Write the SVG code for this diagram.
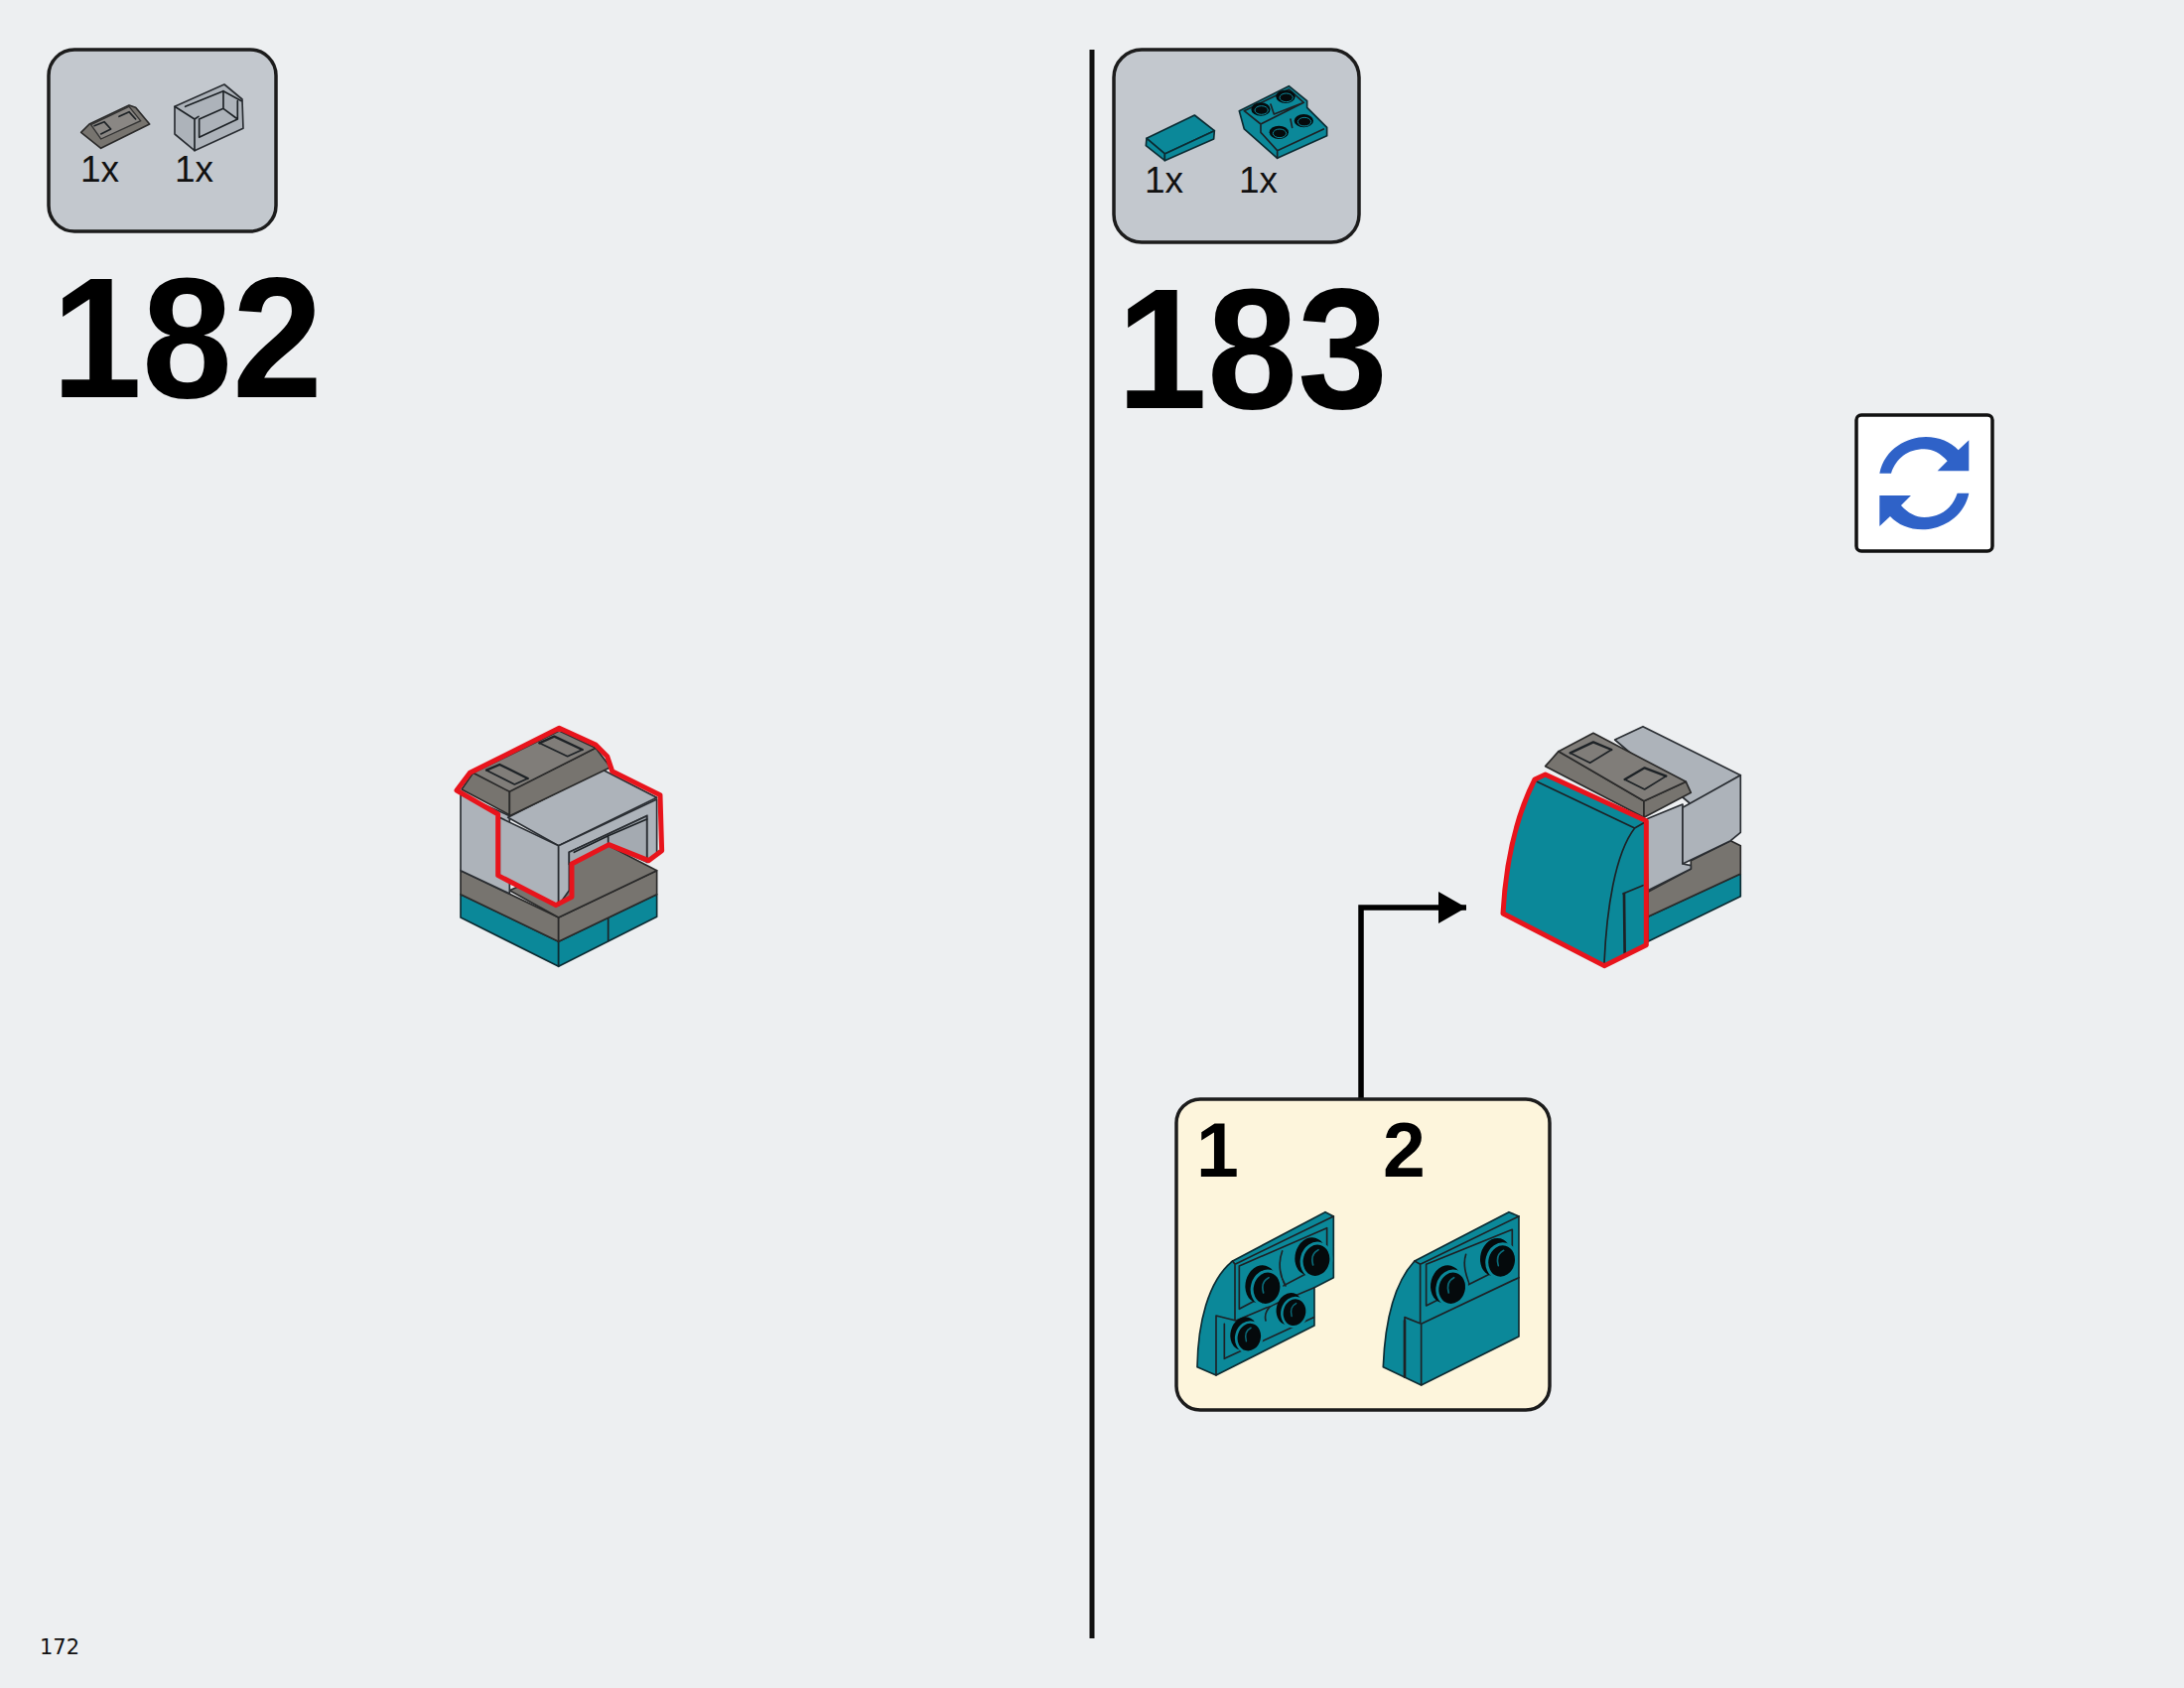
<svg xmlns="http://www.w3.org/2000/svg" width="2200" height="1700" viewBox="0 0 2200 1700">
<style>
.bg{fill:#edeff1}
.panel{fill:#c3c8ce;stroke:#1c1c1c;stroke-width:3.500}
.call{fill:#fdf5dc;stroke:#1c1c1c;stroke-width:3.500}
.num{font-family:"Liberation Sans",Arial,sans-serif;font-weight:700;fill:#000}
.qty{font-family:"Liberation Sans",Arial,sans-serif;font-size:37px;fill:#111}
.pg{font-family:"DejaVu Sans",sans-serif;font-size:21px;fill:#111}
.l{stroke:#1d2226;stroke-width:5;stroke-linejoin:round;stroke-linecap:round;fill:none}
.teal{fill:#0b8899;stroke:#0c2c33;stroke-width:5;stroke-linejoin:round}
.tealn{fill:#0b8899}
.dk{fill:#77746f;stroke:#2a2a2a;stroke-width:5;stroke-linejoin:round}
.dk2{fill:#807d79;stroke:#2a2a2a;stroke-width:5;stroke-linejoin:round}
.lt{fill:#adb3ba;stroke:#2a2e33;stroke-width:5;stroke-linejoin:round}
.red{fill:none;stroke:#e8141c;stroke-width:15;stroke-linejoin:round}
.sk{fill:#050a0c}
.ring{fill:#050a0c;stroke:#0b8899;stroke-width:9}
.hl{fill:none;stroke:#0a6a78;stroke-width:5;stroke-linecap:round}
.thin{fill:none;stroke:#0b8899;stroke-width:3}
.ico{fill:#2f62c8}
</style>
<defs>
<marker id="arr" markerUnits="userSpaceOnUse" markerWidth="30" markerHeight="34" refX="28" refY="16" orient="auto"><path d="M0 0L28 16L0 32Z" fill="#000"/></marker>
<g id="stud">
<ellipse class="sk" cx="-18" cy="-12" rx="46" ry="58" transform="rotate(15 -18 -12)"/>
<ellipse class="ring" rx="44" ry="52" transform="rotate(15)"/>
<path class="hl" d="M-10 14C-16 -8 -10 -24 6 -32"/>
</g>
<g id="stud-s">
<ellipse class="sk" rx="29" ry="20"/>
<ellipse class="thin" cx="2" cy="3" rx="20" ry="13"/>
</g>
<path id="turn" d="M130 215C145 140 215 105 270 105C310 105 345 120 368 145L400 115V208H305L335 178C315 155 290 142 265 142C215 142 180 170 165 215Z"/>
</defs>
<rect class="bg" width="2200" height="1700"/>
<g id="connectors">
<path d="M1100 50V1650" stroke="#111" stroke-width="5" fill="none"/>
<path d="M1371 1107V914H1477" stroke="#000" stroke-width="5.500" fill="none" marker-end="url(#arr)"/>
</g>
<g id="parts-182">
<rect class="panel" x="49" y="50" width="229" height="183" rx="26"/>
<g transform="translate(30 30) scale(.3333)">
<path class="dk" d="M155 310L180 285L300 228L320 235L362 285L215 358Z"/>
<path d="M185 287L300 232L335 275L215 330Z" fill="#8a8784" stroke="#333" stroke-width="4"/>
<path class="l" d="M195 290L225 278L245 300L215 315M270 262L300 248L320 270"/>
<path class="lt" d="M438 232L588 165L642 210L645 298L498 365L438 315Z"/>
<path class="l" d="M438 232L498 270V365M498 270L510 262M470 232L585 185L640 215M512 270L585 238V185M585 238L628 270M512 270V325L628 270V215"/>
</g>
<text class="qty" x="81" y="183">1x</text>
<text class="qty" x="176" y="183">1x</text>
</g>
<text id="step-182" class="num" x="52" y="400" font-size="172" textLength="273" lengthAdjust="spacingAndGlyphs">182</text>
<g id="model-182" transform="translate(440 710) scale(.3333)">
<path class="teal" d="M72 572L368 715V790L72 642Z"/>
<path class="teal" d="M368 715L665 572V640L368 790Z"/>
<path class="l" d="M518 640V712"/>
<path class="dk" d="M72 500L368 642V715L72 572Z"/>
<path class="dk" d="M368 642L665 500V572L368 715Z"/>
<path class="dk" d="M220 560L400 480L520 425L665 500L368 642Z"/>
<path class="lt" d="M72 270V500L220 570L220 335Z"/>
<path class="lt" d="M215 340L500 195L665 280L368 425Z"/>
<path class="lt" d="M190 340L368 425V605L190 520Z"/>
<path class="lt" d="M368 425L665 285V450L635 475V335L400 445V480V560L368 605Z"/>
<path d="M400 445L635 335V475L520 422L400 480Z" fill="#a4aab1" stroke="#2a2e33" stroke-width="5"/>
<path class="l" d="M415 445L518 395V422M518 395L635 345"/>
<path class="dk" d="M75 255L110 205L220 260L220 332Z"/>
<path class="dk" d="M220 260L480 130L525 188L220 335Z"/>
<path class="dk2" d="M110 205L370 78L480 130L220 262Z"/>
<path class="l" style="stroke-width:7" d="M150 197L190 180L275 222M310 115L355 95L440 135"/>
<path class="l" d="M150 197L235 240L275 222M310 115L395 155L440 135"/>
<path class="red" d="M60 258L100 205L370 70L480 120L515 155L530 200L675 272L680 440L640 470L520 422L408 480L408 580L360 605L185 515L185 330Z"/>
</g>
<g id="parts-183">
<rect class="panel" x="1122" y="50" width="247" height="194" rx="28"/>
<g transform="translate(1110 40) scale(.3333)">
<path class="teal" d="M135 298L280 228L340 275L190 345Z"/>
<path class="teal" d="M135 298L190 345V365L133 320Z"/>
<path class="teal" d="M190 345L340 275L338 300L190 365Z"/>
<path class="teal" d="M415 215L565 140L620 185V205L680 265V290L530 358L430 270Z"/>
<path class="l" d="M430 215L565 150L610 190L480 255L430 215M480 255V280L530 335L670 270M530 335V358M510 195L520 225L610 190M570 240L575 265"/>
<use href="#stud-s" x="480" y="210"/><use href="#stud-s" x="555" y="172"/><use href="#stud-s" x="535" y="280"/><use href="#stud-s" x="610" y="245"/>
</g>
<text class="qty" x="1153" y="194">1x</text>
<text class="qty" x="1248" y="194">1x</text>
</g>
<text id="step-183" class="num" x="1125" y="411" font-size="172" textLength="273" lengthAdjust="spacingAndGlyphs">183</text>
<g id="rotate-icon">
<rect x="1870" y="418" width="137" height="137" rx="5" fill="#fff" stroke="#111" stroke-width="3.500"/>
<g transform="translate(1850 405) scale(.3333)">
<use href="#turn" class="ico"/>
<use href="#turn" class="ico" transform="rotate(180 265 245)"/>
</g>
</g>
<g id="model-183" transform="translate(1490 710) scale(.3333)">
<path class="lt" d="M410 105L495 65L790 212L640 300Z"/>
<path class="teal" d="M510 640L790 510V578L510 715Z"/>
<path class="dk" d="M510 565L640 495V470L760 410L790 425V510L510 640Z"/>
<path class="lt" d="M505 345L615 300V480L640 485V495L510 560Z"/>
<path class="lt" d="M615 310L790 212V385L760 410L615 480Z"/>
<path class="dk" d="M200 185L240 140L498 290V340Z"/>
<path class="dk" d="M498 290L625 232L640 265L498 340Z"/>
<path class="dk2" d="M240 140L345 85L625 232L498 290Z"/>
<path class="l" style="stroke-width:7" d="M275 145L345 112L400 135M440 225L500 190L565 215"/>
<path class="l" d="M275 145L335 175L400 135M440 225L500 255L565 215"/>
<path class="tealn" d="M75 630C80 480 110 340 170 225L200 210L500 355V725L378 785Z"/>
<path class="l" d="M175 232L470 372C410 450 385 620 378 780M470 372L500 355M435 570L495 545"/>
<path class="l" style="stroke-width:8" d="M438 570L440 750"/>
<path class="red" d="M72 630C80 480 110 340 168 225L200 210L505 350V725L378 788Z"/>
</g>
<g id="callout">
<rect class="call" x="1185" y="1107" width="376" height="313" rx="24"/>
<text class="num" x="1205" y="1185" font-size="77">1</text>
<text class="num" x="1393" y="1185" font-size="77">2</text>
<g transform="translate(1180 1100) scale(.3333)">
<path class="teal" d="M78 830C80 700 110 570 185 510L465 362L490 375V560L432 590V705L135 855Z"/>
<path class="l" d="M185 510L192 520V690M192 520L490 375M135 675V855M135 675L195 690M205 525V655L470 515V410L205 525M195 690L432 590"/>
<path class="l" d="M160 805V700M160 805L430 680"/>
<path class="l" d="M335 480C320 520 330 560 345 585M285 690C280 670 290 650 310 640"/>
<use href="#stud" x="288" y="592"/>
<use href="#stud" x="438" y="508"/>
<use href="#stud" transform="translate(372 665) scale(.85)"/>
<use href="#stud" transform="translate(235 740) scale(.88)"/>
<path class="teal" d="M640 830C645 700 670 580 735 510L1020 362L1050 375V738L755 885Z"/>
<path class="l" d="M735 510L752 520V695M752 520L1050 375M705 680V860M705 680L755 700V885M755 700L1050 560M770 520V645L1030 515V415L770 520"/>
<path class="l" style="stroke-width:8" d="M705 690V860"/>
<path class="l" d="M890 490C880 520 890 550 900 580"/>
<use href="#stud" x="848" y="592"/>
<use href="#stud" x="998" y="510"/>
</g>
</g>
<text id="page-number" class="pg" x="40" y="1666">172</text>
</svg>
